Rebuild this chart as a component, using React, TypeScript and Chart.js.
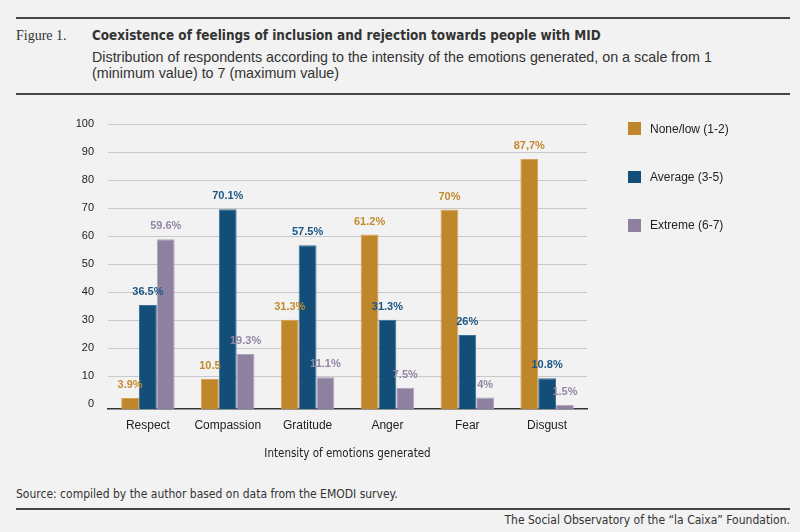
import React, { useEffect, useRef } from "react";
import { Chart, registerables, ChartConfiguration, Plugin } from "chart.js";

Chart.register(...registerables);

const categories = ["Respect", "Compassion", "Gratitude", "Anger", "Fear", "Disgust"];
const seriesNames = ["None/low (1-2)", "Average (3-5)", "Extreme (6-7)"];
const noneLow = [3.9, 10.5, 31.3, 61.2, 70, 87.7];
const average = [36.5, 70.1, 57.5, 31.3, 26, 10.8];
const extreme = [59.6, 19.3, 11.1, 7.5, 4, 1.5];
const noneLowLabels = ["3.9%", "10.5", "31.3%", "61.2%", "70%", "87,7%"];
const averageLabels = ["36.5%", "70.1%", "57.5%", "31.3%", "26%", "10.8%"];
const extremeLabels = ["59.6%", "19.3%", "11.1%", "7.5%", "4%", "1.5%"];
const yTicks = [0, 10, 20, 30, 40, 50, 60, 70, 80, 90, 100];

const colors = ["#c0862a", "#134e78", "#8e81a0"];
const edgeColors = ["#d4a45a", "#3f6f94", "#aea4bd"];
const labelColors = ["#c48a2e", "#1b5684", "#9386a5"];
const valueLabels = [noneLowLabels, averageLabels, extremeLabels];

const SANS = "'Liberation Sans', Arial, sans-serif";
const NARROW = "'DejaVu Sans Condensed', sans-serif";

// draws the percentage above each bar
const barLabels: Plugin<"bar"> = {
  id: "barLabels",
  afterDatasetsDraw(chart) {
    const ctx = chart.ctx;
    ctx.save();
    ctx.font = `bold 11px ${SANS}`;
    ctx.textAlign = "center";
    ctx.textBaseline = "middle";
    chart.data.datasets.forEach((ds, i) => {
      const meta = chart.getDatasetMeta(i);
      ctx.fillStyle = labelColors[i];
      meta.data.forEach((bar, j) => {
        ctx.fillText(valueLabels[i][j], bar.x, bar.y - 13);
      });
    });
    ctx.restore();
  },
};

const App: React.FC = () => {
  const canvasRef = useRef<HTMLCanvasElement>(null);
  const chartRef = useRef<Chart<"bar"> | null>(null);

  useEffect(() => {
    document.body.style.margin = "0";
    document.body.style.background = "#f2f2f2";
    if (!canvasRef.current) return;

    const config: ChartConfiguration<"bar"> = {
      type: "bar",
      data: {
        labels: categories,
        datasets: [noneLow, average, extreme].map((d, i) => ({
          label: seriesNames[i],
          data: d,
          yAxisID: "yBars",
          backgroundColor: colors[i],
          borderColor: edgeColors[i],
          borderWidth: 1,
          borderSkipped: "bottom" as const,
          barPercentage: 1,
          categoryPercentage: 0.67,
        })),
      },
      options: {
        animation: false,
        responsive: false,
        maintainAspectRatio: false,
        layout: { padding: { top: 24, right: 213, left: 0, bottom: 0 } },
        plugins: {
          legend: { display: false },
          tooltip: { enabled: false },
        },
        scales: {
          x: {
            grid: { display: false, drawTicks: false },
            border: { display: true, color: "#333333", width: 1.5 },
            ticks: { color: "#222222", font: { family: SANS, size: 12 }, padding: 9 },
            title: {
              display: true,
              text: "Intensity of emotions generated",
              color: "#222222",
              font: { family: NARROW, size: 11.5 },
              padding: { top: 0, bottom: 9 },
            },
            afterFit: (axis) => {
              axis.height = 61;
            },
          },
          y: {
            min: -1.75,
            max: 100,
            position: "left",
            grid: {
              drawTicks: false,
              color: (c) => (c.tick && c.tick.value === 0 ? "rgba(0,0,0,0)" : "#c9c9c9"),
              lineWidth: 1,
            },
            border: { display: false },
            ticks: { color: "#222222", font: { family: SANS, size: 11 }, padding: 14 },
            afterBuildTicks: (axis) => {
              axis.ticks = yTicks.map((v) => ({ value: v }));
            },
            afterFit: (axis) => {
              axis.width = 108;
            },
          },
          yBars: {
            display: false,
            min: 0,
            max: 100,
            position: "left",
          },
        },
      },
      plugins: [barLabels],
    };

    chartRef.current?.destroy();
    chartRef.current = new Chart(canvasRef.current, config);
    return () => {
      chartRef.current?.destroy();
      chartRef.current = null;
    };
  }, []);

  const line = (top: number): React.CSSProperties => ({
    position: "absolute",
    left: 16,
    width: 774,
    top,
    height: 2,
    background: "#444444",
  });

  return (
    <div
      style={{
        position: "absolute",
        left: 0,
        top: 0,
        width: 800,
        height: 532,
        background: "#f2f2f2",
        color: "#333333",
        overflow: "hidden",
      }}
    >
      <div style={line(17)} />
      <div
        style={{
          position: "absolute",
          left: 16,
          top: 26.5,
          lineHeight: "17px",
          fontFamily: "'Liberation Serif', serif",
          fontSize: 14,
          color: "#333",
        }}
      >
        Figure 1.
      </div>
      <div
        style={{
          position: "absolute",
          left: 92,
          top: 27,
          lineHeight: "17px",
          fontFamily: NARROW,
          fontWeight: "bold",
          fontSize: 13.4,
          color: "#333",
          whiteSpace: "nowrap",
        }}
      >
        Coexistence of feelings of inclusion and rejection towards people with MID
      </div>
      <div
        style={{
          position: "absolute",
          left: 92,
          top: 48.5,
          width: 680,
          lineHeight: "16px",
          fontFamily: SANS,
          fontSize: 14.3,
          color: "#333",
          whiteSpace: "nowrap",
        }}
      >
        Distribution of respondents according to the intensity of the emotions generated, on a scale from 1
        <br />
        (minimum value) to 7 (maximum value)
      </div>
      <div style={line(93)} />

      <canvas
        ref={canvasRef}
        width={800}
        height={370}
        style={{ position: "absolute", left: 0, top: 100, width: 800, height: 370 }}
      />

      {seriesNames.map((name, i) => (
        <div
          key={name}
          style={{
            position: "absolute",
            left: 628,
            top: 128.7 + i * 48.3 - 8,
            height: 16,
            display: "flex",
            alignItems: "center",
            fontFamily: SANS,
            fontSize: 12,
            color: "#222",
            whiteSpace: "nowrap",
          }}
        >
          <span
            style={{
              display: "inline-block",
              width: 12.5,
              height: 12.5,
              background: colors[i],
              marginRight: 9.5,
            }}
          />
          {name}
        </div>
      ))}

      <div
        style={{
          position: "absolute",
          left: 16,
          top: 486,
          lineHeight: "16px",
          fontFamily: NARROW,
          fontSize: 12,
          color: "#333",
          whiteSpace: "nowrap",
        }}
      >
        Source: compiled by the author based on data from the EMODI survey.
      </div>
      <div style={line(508)} />
      <div
        style={{
          position: "absolute",
          right: 10,
          top: 512,
          lineHeight: "16px",
          fontFamily: NARROW,
          fontSize: 12,
          color: "#333",
          whiteSpace: "nowrap",
        }}
      >
        The Social Observatory of the “la Caixa” Foundation.
      </div>
    </div>
  );
};

export default App;
